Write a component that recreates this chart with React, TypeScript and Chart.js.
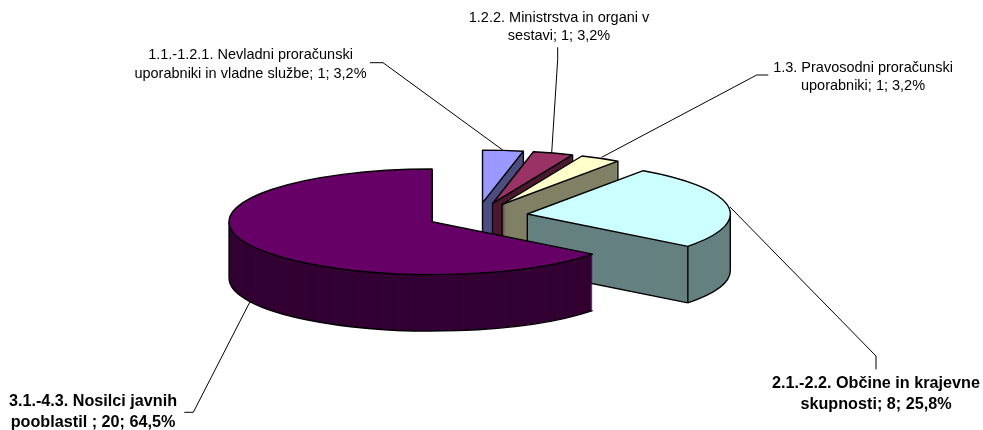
import React, { useEffect, useRef } from "react";
import { Chart, registerables } from "chart.js";

Chart.register(...registerables);

const categories = [
  "1.1.-1.2.1. Nevladni proračunski uporabniki in vladne službe",
  "1.2.2. Ministrstva in organi v sestavi",
  "1.3. Pravosodni proračunski uporabniki",
  "2.1.-2.2. Občine in krajevne skupnosti",
  "3.1.-4.3. Nosilci javnih pooblastil",
];
const values = [1, 1, 1, 8, 20];
const topColors = ["#9999FF", "#993366", "#FFFFCC", "#CCFFFF", "#660066"];
const wallColors = ["#4D4D80", "#4D1933", "#808066", "#668080", "#330033"];

const RADIUS = 203;
const SQUASH = 0.26;
const DEPTH = 56.5;
const EXPLODE = 50.5;
const CX = 477.4;
const CY = 216;

type Label = { lines: string[]; x: number; ys: number[]; bold: boolean; leader: number[][] };
const labels: Label[] = [
  { lines: ["1.1.-1.2.1. Nevladni proračunski", "uporabniki in vladne službe; 1; 3,2%"], x: 250.5, ys: [55, 73.5], bold: false, leader: [[370, 62.7], [383, 62.7], [502.7, 150]] },
  { lines: ["1.2.2. Ministrstva in organi v", "sestavi; 1; 3,2%"], x: 559, ys: [17.5, 36], bold: false, leader: [[557.7, 47.3], [557.7, 59.3], [551.7, 152.7]] },
  { lines: ["1.3. Pravosodni proračunski", "uporabniki; 1; 3,2%"], x: 863, ys: [67.5, 86], bold: false, leader: [[768.3, 75], [756.7, 75], [601.7, 157.3]] },
  { lines: ["2.1.-2.2. Občine in krajevne", "skupnosti; 8; 25,8%"], x: 876, ys: [384, 405], bold: true, leader: [[876, 369.3], [876, 356], [730, 207]] },
  { lines: ["3.1.-4.3. Nosilci javnih", "pooblastil ; 20; 64,5%"], x: 93, ys: [401.7, 422.7], bold: true, leader: [[184.3, 412.3], [193.3, 412.3], [250, 301.7]] },
];

const pie3d = {
  id: "pie3d",
  beforeDatasetDraw(chart: any, args: any) {
    const ctx: CanvasRenderingContext2D = chart.ctx;
    const arcs = chart.getDatasetMeta(args.index).data;
    const plain = (c: string) => ({
      backgroundColor: c, borderColor: c, borderWidth: 0, borderAlign: "center",
      borderRadius: 0, borderJoinStyle: "round", offset: 0, spacing: 0, circular: true,
    });
    const TAU = Math.PI * 2;
    arcs.forEach((arc: any, i: number) => {
      const saved = arc.options;
      const mid = (arc.startAngle + arc.endAngle) / 2;
      const ax = arc.x + Math.cos(mid) * EXPLODE;
      const ay = arc.y + Math.sin(mid) * EXPLODE * SQUASH;
      const r = arc.outerRadius;
      const paint = (dy: number, color: string) => {
        ctx.save();
        ctx.translate(ax, ay + dy);
        ctx.scale(1, SQUASH);
        ctx.translate(-arc.x, -arc.y);
        arc.options = plain(color);
        arc.draw(ctx);
        ctx.restore();
      };
      for (let dy = DEPTH; dy > 0; dy -= 0.5) paint(dy, wallColors[i]);

      ctx.save();
      ctx.strokeStyle = "#000";
      ctx.lineWidth = 1.4;
      ctx.lineJoin = "round";
      const px = (a: number) => ax + Math.cos(a) * r;
      const py = (a: number) => ay + Math.sin(a) * r * SQUASH;
      const seg = (x: number, y: number, x2: number, y2: number) => {
        ctx.beginPath(); ctx.moveTo(x, y); ctx.lineTo(x2, y2); ctx.stroke();
      };
      const start = arc.startAngle;
      const end = arc.endAngle;
      // visible bottom rim: the part of the slice on the front half of the ellipse
      for (const k of [0, TAU]) {
        const a = Math.max(start, k);
        const b = Math.min(end, k + Math.PI);
        if (b > a) {
          ctx.beginPath();
          ctx.ellipse(ax, ay + DEPTH, r, r * SQUASH, 0, a, b);
          ctx.stroke();
          if (a === k) seg(px(k), py(k), px(k), py(k) + DEPTH);
          if (b === k + Math.PI) seg(px(b), py(b), px(b), py(b) + DEPTH);
        }
      }
      seg(px(end), py(end), px(end), py(end) + DEPTH);
      const coversFront = start < Math.PI / 2 && end > Math.PI / 2;
      if (!coversFront) {
        seg(ax, ay, ax, ay + DEPTH);
        seg(ax, ay + DEPTH, px(end), py(end) + DEPTH);
      }
      ctx.restore();

      paint(0, topColors[i]);
      arc.options = saved;

      ctx.save();
      ctx.strokeStyle = "#000";
      ctx.lineWidth = 1.4;
      ctx.lineJoin = "round";
      ctx.beginPath();
      ctx.moveTo(ax, ay);
      ctx.ellipse(ax, ay, r, r * SQUASH, 0, start, end);
      ctx.closePath();
      ctx.stroke();
      ctx.restore();
    });
    return false;
  },
  afterDraw(chart: any) {
    const ctx: CanvasRenderingContext2D = chart.ctx;
    ctx.save();
    ctx.strokeStyle = "#000";
    ctx.lineWidth = 1;
    ctx.fillStyle = "#000";
    ctx.textAlign = "center";
    ctx.textBaseline = "middle";
    labels.forEach((l) => {
      ctx.beginPath();
      l.leader.forEach(([x, y], i) => (i ? ctx.lineTo(x, y) : ctx.moveTo(x, y)));
      ctx.stroke();
      ctx.font = `${l.bold ? "bold 16.2px" : "14.5px"} "Liberation Sans", Arial, sans-serif`;
      l.lines.forEach((t, i) => ctx.fillText(t, l.x, l.ys[i]));
    });
    ctx.restore();
  },
};

export default function App() {
  const ref = useRef<HTMLCanvasElement>(null);
  useEffect(() => {
    const chart = new Chart(ref.current!, {
      type: "pie",
      data: {
        labels: categories,
        datasets: [{ data: values, backgroundColor: topColors, borderWidth: 0 }],
      },
      options: {
        animation: false,
        responsive: false,
        radius: RADIUS,
        layout: { padding: { left: 0, right: 983 - 2 * CX, top: 2 * CY - 430, bottom: 0 } },
        plugins: { legend: { display: false }, tooltip: { enabled: false } },
      },
      plugins: [pie3d],
    } as any);
    return () => chart.destroy();
  }, []);
  return (
    <div style={{ position: "fixed", left: 0, top: 0, width: 983, height: 430, background: "#fff" }}>
      <canvas ref={ref} width={983} height={430} style={{ display: "block" }} />
    </div>
  );
}
